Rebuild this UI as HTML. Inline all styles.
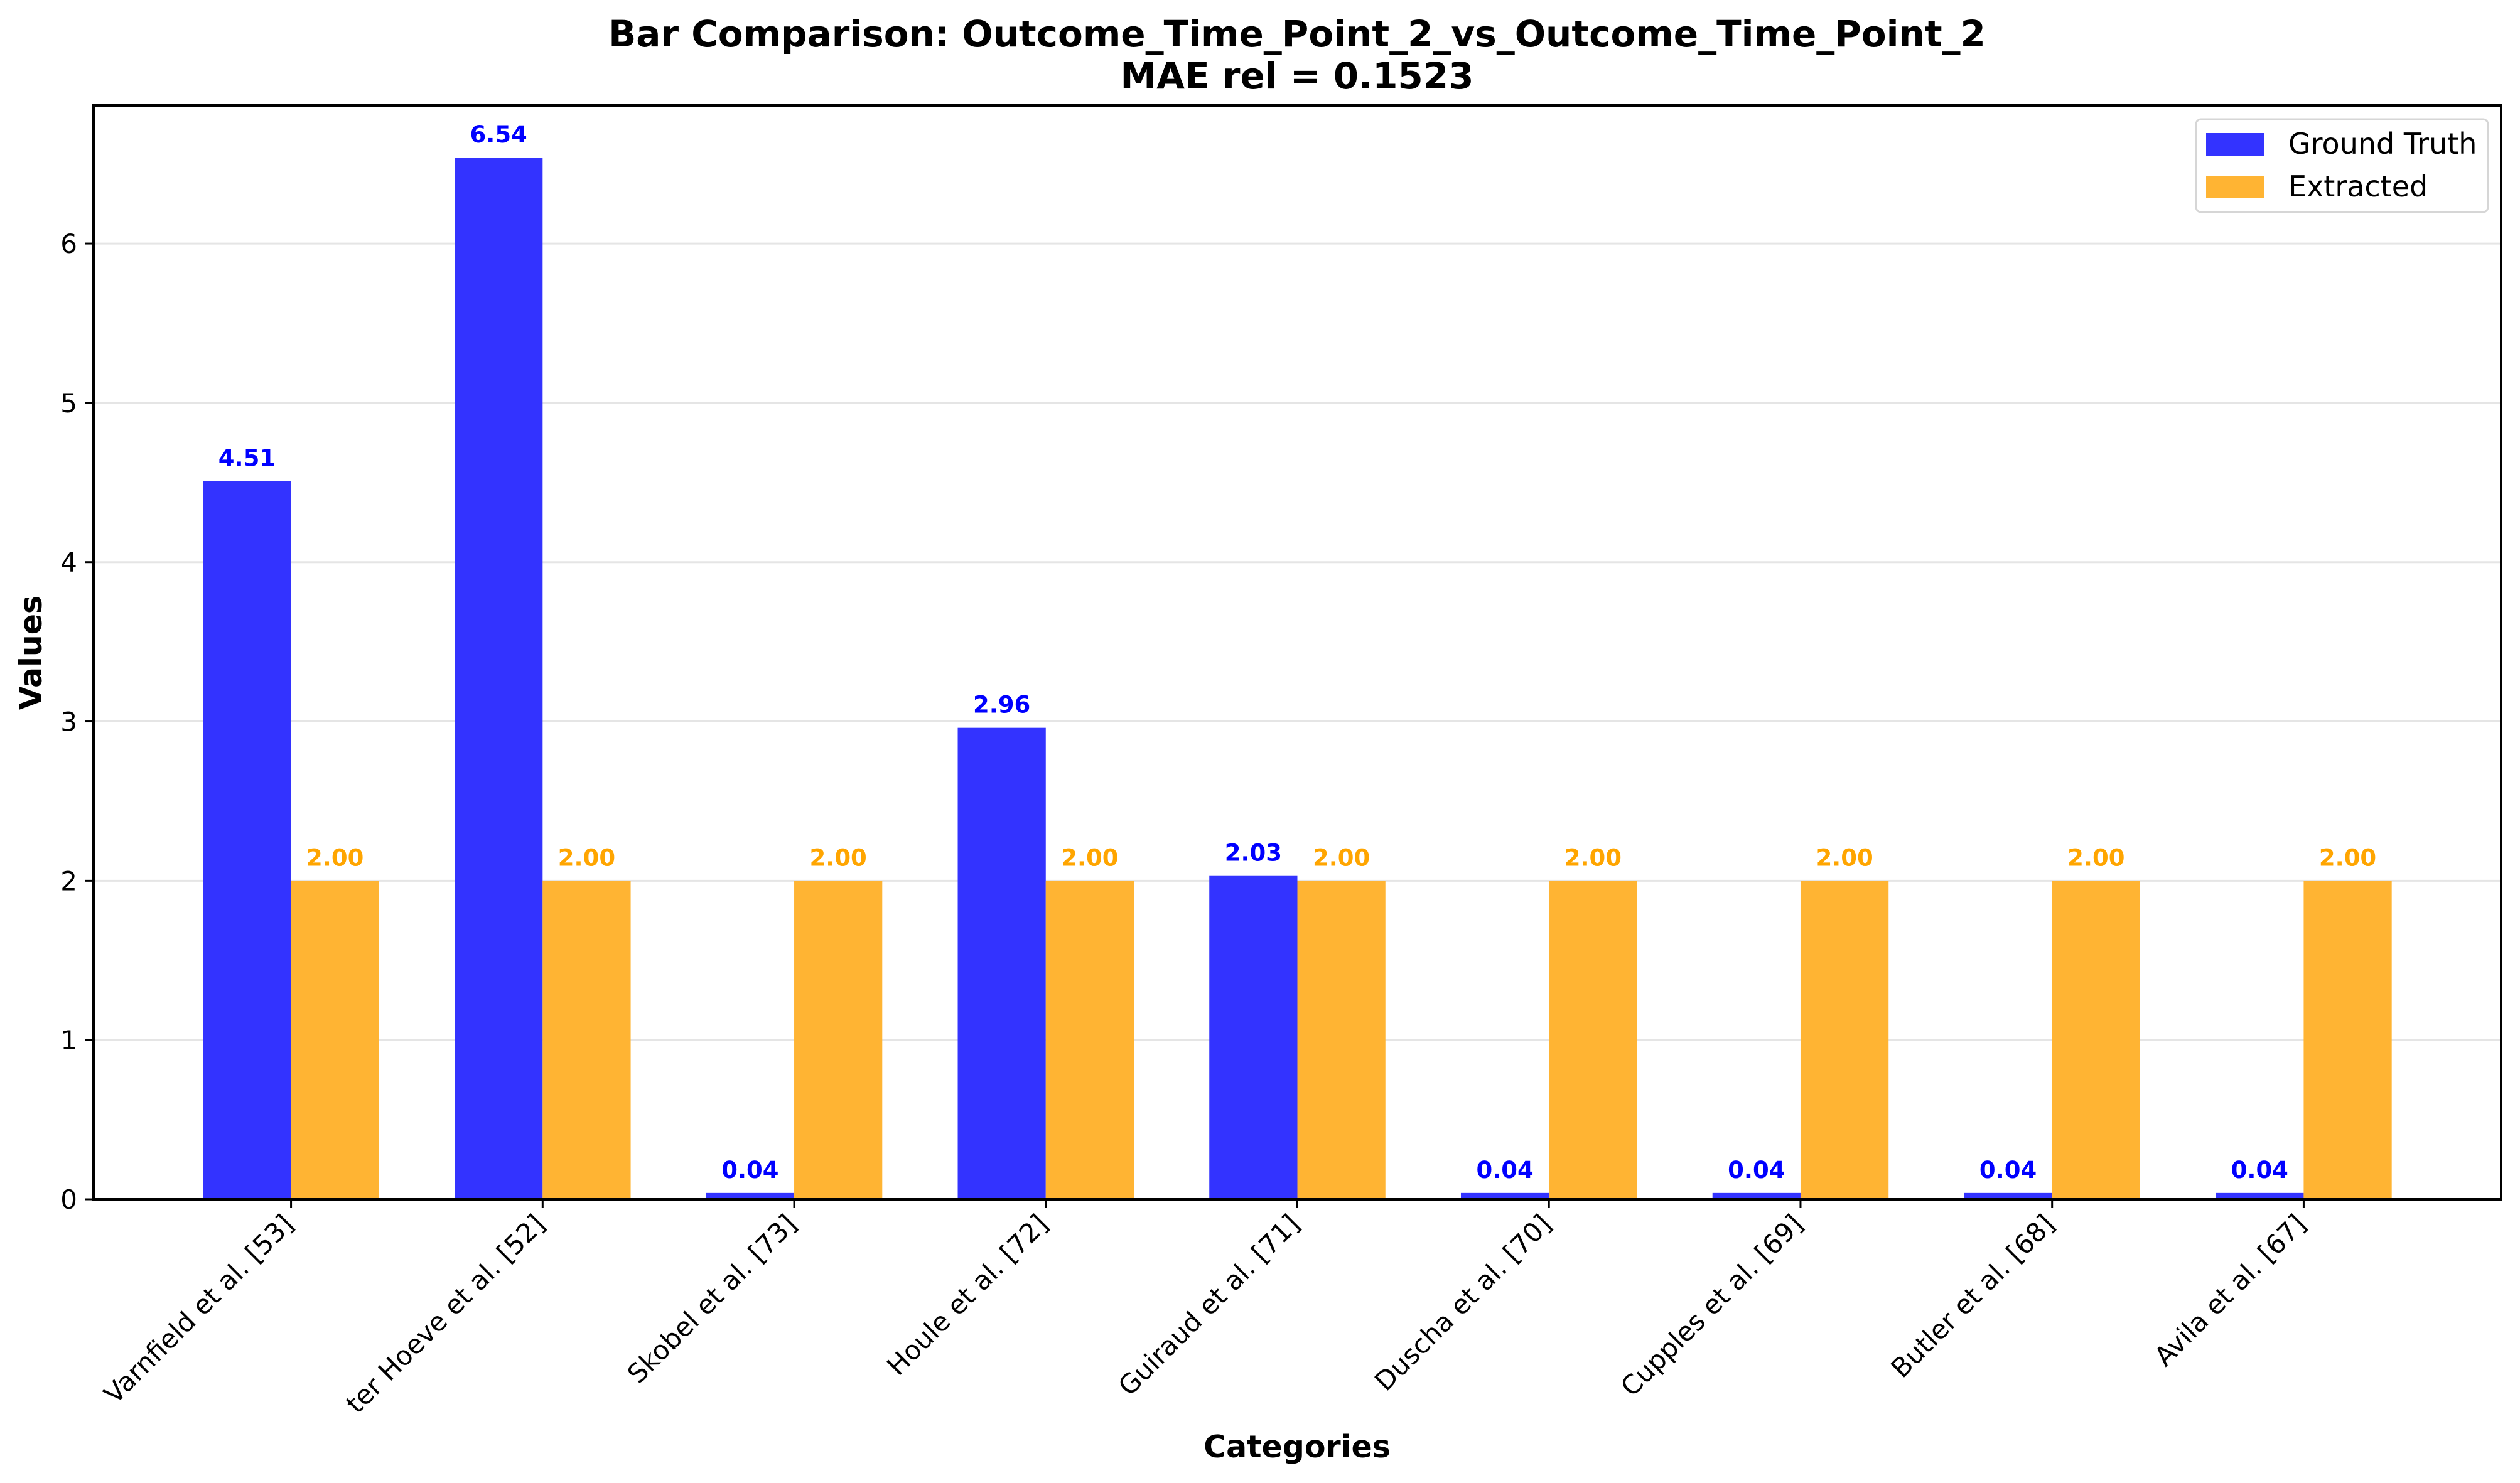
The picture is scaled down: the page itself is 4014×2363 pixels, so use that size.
<!DOCTYPE html>
<html><head><meta charset="utf-8"><style>
html,body{margin:0;padding:0;background:#fff;}
svg{display:block;font-family:"DejaVu Sans","Liberation Sans",sans-serif;}
</style></head><body>
<svg id="chart" width="4014" height="2363" viewBox="0 0 4014 2363" xmlns="http://www.w3.org/2000/svg">
<rect width="4014" height="2363" fill="#fff"/>
<text x="2066" y="74" text-anchor="middle" font-size="58" font-weight="bold">Bar Comparison: Outcome_Time_Point_2_vs_Outcome_Time_Point_2</text>
<text x="2066" y="141" text-anchor="middle" font-size="58" font-weight="bold">MAE rel = 0.1523</text>
<g id="grid"></g>
<g id="bars"></g>
<g id="labels"></g>
<rect x="149" y="168" width="3835" height="1743" fill="none" stroke="#000" stroke-width="4"/>
<g id="yticks"></g>
<g id="xticks"></g>
<text transform="translate(66,1040) rotate(-90)" text-anchor="middle" font-size="49" font-weight="bold">Values</text>
<text x="2066" y="2322" text-anchor="middle" font-size="49" font-weight="bold">Categories</text>
<g>
<rect x="3498" y="190" width="465" height="148" rx="8" fill="#fff" fill-opacity="0.8" stroke="#d6d6d6" stroke-width="3"/>
<rect x="3514" y="212" width="92" height="36" fill="#3333ff"/>
<text x="3645" y="245" font-size="46">Ground Truth</text>
<rect x="3514" y="280" width="92" height="36" fill="#ffb433"/>
<text x="3645" y="313" font-size="46">Extracted</text>
</g>
</svg>
<script>
const categories = ["Varnfield et al. [53]","ter Hoeve et al. [52]","Skobel et al. [73]","Houle et al. [72]","Guiraud et al. [71]","Duscha et al. [70]","Cupples et al. [69]","Butler et al. [68]","Avila et al. [67]"];
const groundTruth = [4.51,6.54,0.04,2.96,2.03,0.04,0.04,0.04,0.04];
const extracted = [2.00,2.00,2.00,2.00,2.00,2.00,2.00,2.00,2.00];
const yTicks = [0,1,2,3,4,5,6];

const NS="http://www.w3.org/2000/svg";
const L=149,R=3984,T=168,B=1911;
const n=categories.length;
const bw=0.35;
const yMax=Math.max(...groundTruth,...extracted)*1.05;
const xMin=-bw-(n-1+2*bw)*0.05, xMax=n-1+bw+(n-1+2*bw)*0.05;
function xs(v){return L+(v-xMin)/(xMax-xMin)*(R-L);}
function ys(v){return B-v/yMax*(B-T);}
function mk(tag,attrs,parent,text){const e=document.createElementNS(NS,tag);for(const k in attrs)e.setAttribute(k,attrs[k]);if(text!==undefined)e.textContent=text;parent.appendChild(e);return e;}
const grid=document.getElementById('grid'),bars=document.getElementById('bars'),labels=document.getElementById('labels'),yt=document.getElementById('yticks'),xt=document.getElementById('xticks');
yTicks.forEach(t=>{
  const y=ys(t);
  const g=mk('line',{x1:L,x2:R,y1:y,y2:y,stroke:'#e5e5e5','stroke-width':3},grid);
  
  
  const tk=mk('line',{x1:L-14,x2:L,y1:y,y2:y,stroke:'#000','stroke-width':3},yt);
  
  
  const tl=mk('text',{x:L-26,y:y+15,'text-anchor':'end','font-size':42},yt,String(t));
  
  
});
categories.forEach((c,i)=>{
  const x0=xs(i-bw),x1=xs(i),x2=xs(i+bw);
  const g=groundTruth[i],e=extracted[i];
  const b1=mk('rect',{x:x0,y:ys(g),width:x1-x0,height:B-ys(g),fill:'#3333ff'},bars);
  
  
  const b2=mk('rect',{x:x1,y:ys(e),width:x2-x1,height:B-ys(e),fill:'#ffb433'},bars);
  
  
  const l1=mk('text',{x:(x0+x1)/2,y:ys(g)-24,'text-anchor':'middle','font-size':37,'font-weight':'bold',fill:'#0000ff'},labels,g.toFixed(2));
  
  
  const l2=mk('text',{x:(x1+x2)/2,y:ys(e)-24,'text-anchor':'middle','font-size':37,'font-weight':'bold',fill:'#ffa500'},labels,e.toFixed(2));
  
  
  const tk=mk('line',{x1:x1,x2:x1,y1:B,y2:B+14,stroke:'#000','stroke-width':3},xt);
  
  
  const tl=mk('text',{transform:`translate(${x1+6},${B+42}) rotate(-45)`,'text-anchor':'end','font-size':42},xt,c);
  
  
});
</script>
</body></html>
